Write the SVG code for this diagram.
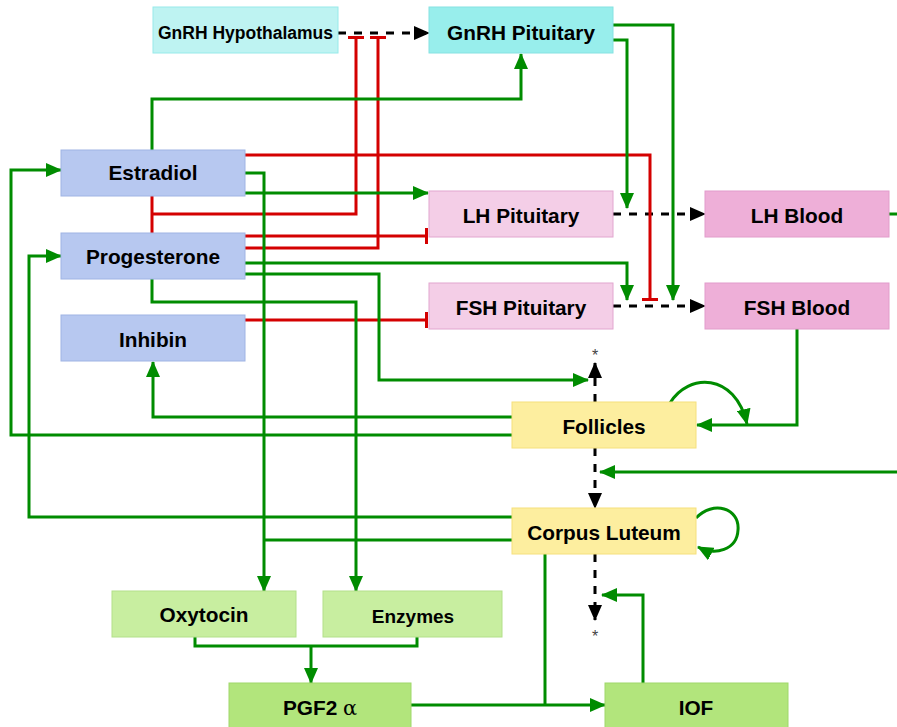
<svg xmlns="http://www.w3.org/2000/svg" width="897" height="727" viewBox="0 0 897 727">
<style>
.lbl{font-family:"Liberation Sans",Arial,sans-serif;font-weight:bold;font-size:20.8px;fill:#000;text-anchor:middle}
.g{fill:none;stroke:#008c00;stroke-width:3}
.r{fill:none;stroke:#d40000;stroke-width:3}
.d{fill:none;stroke:#000;stroke-width:3;stroke-dasharray:8 8}
.star{font-family:"Liberation Sans",Arial,sans-serif;font-size:16px;fill:#444;text-anchor:middle}
</style>
<defs>
<marker id="ga" markerWidth="16" markerHeight="14" refX="15" refY="7" orient="auto" markerUnits="userSpaceOnUse"><path d="M0,0 L16,7 L0,14 z" fill="#008c00"/></marker>
<marker id="ba" markerWidth="16" markerHeight="14" refX="15" refY="7" orient="auto" markerUnits="userSpaceOnUse"><path d="M0,0 L16,7 L0,14 z" fill="#000"/></marker>
<marker id="tee" markerWidth="4" markerHeight="16" refX="2" refY="8" orient="auto" markerUnits="userSpaceOnUse"><rect x="0" y="0" width="3" height="16" fill="#d40000"/></marker>
</defs>
<rect width="897" height="727" fill="#fff"/>
<g id="connectors">
<path class="d" d="M338,33 H429" marker-end="url(#ba)"/>
<path class="d" d="M613,214 H705" marker-end="url(#ba)"/>
<path class="d" d="M613,306 H705" marker-end="url(#ba)"/>
<path class="d" d="M595,402 V363" marker-end="url(#ba)"/>
<path class="d" d="M595,448 V508" marker-end="url(#ba)"/>
<path class="d" d="M595,554 V620" marker-end="url(#ba)"/>
<path class="r" d="M152,196 V233"/>
<path class="r" d="M152,214 H356 V37" marker-end="url(#tee)"/>
<path class="r" d="M245,248 H378 V37" marker-end="url(#tee)"/>
<path class="r" d="M245,155 H650 V300" marker-end="url(#tee)"/>
<path class="r" d="M245,236 H427" marker-end="url(#tee)"/>
<path class="r" d="M245,320 H427" marker-end="url(#tee)"/>
<path class="g" d="M152,150 V99 H521 V54" marker-end="url(#ga)"/>
<path class="g" d="M245,193 H428" marker-end="url(#ga)"/>
<path class="g" d="M245,173 H264 V591" marker-end="url(#ga)"/>
<path class="g" d="M613,40 H627 V208" marker-end="url(#ga)"/>
<path class="g" d="M613,25 H673 V300" marker-end="url(#ga)"/>
<path class="g" d="M245,263 H627 V300" marker-end="url(#ga)"/>
<path class="g" d="M245,274 H379 V380 H588" marker-end="url(#ga)"/>
<path class="g" d="M152,279 V302 H356 V591" marker-end="url(#ga)"/>
<path class="g" d="M512,417 H153 V362" marker-end="url(#ga)"/>
<path class="g" d="M512,435 H11 V170 H61" marker-end="url(#ga)"/>
<path class="g" d="M512,517 H29 V256 H61" marker-end="url(#ga)"/>
<path class="g" d="M512,540 H264"/>
<path class="g" d="M545,554 V705"/>
<path class="g" d="M411,705 H605" marker-end="url(#ga)"/>
<path class="g" d="M195,637 V646 H417 V637"/>
<path class="g" d="M311,646 V683" marker-end="url(#ga)"/>
<path class="g" d="M643,683 V595 H602" marker-end="url(#ga)"/>
<path class="g" d="M797,329 V425 H697" marker-end="url(#ga)"/>
<path class="g" d="M670,403 C688,373 735,372 747,424" marker-end="url(#ga)"/>
<path class="g" d="M696,518 C713,500 740,508 738,530 C737,550 715,556 698,547" marker-end="url(#ga)"/>
<path class="g" d="M889,214 H897"/>
<path class="g" d="M897,472 H600" marker-end="url(#ga)"/>
</g>
<text class="star" x="595" y="361">*</text>
<text class="star" x="595" y="642">*</text>
<g id="gnrh-hypothalamus"><rect x="153" y="7" width="185" height="46" fill="#bef3f2" stroke="#97eaea"/><text class="lbl" x="245.5" y="39" style="font-size:17.5px">GnRH Hypothalamus</text></g>
<g id="gnrh-pituitary"><rect x="429" y="7" width="184" height="46" fill="#98eeec" stroke="#86e2e2"/><text class="lbl" x="521" y="40">GnRH Pituitary</text></g>
<g id="estradiol"><rect x="61" y="150" width="184" height="46" fill="#b7c8f0" stroke="#9fb4e4"/><text class="lbl" x="153" y="180">Estradiol</text></g>
<g id="progesterone"><rect x="61" y="233" width="184" height="46" fill="#b7c8f0" stroke="#9fb4e4"/><text class="lbl" x="153" y="264">Progesterone</text></g>
<g id="inhibin"><rect x="61" y="315" width="184" height="46" fill="#b7c8f0" stroke="#9fb4e4"/><text class="lbl" x="153" y="347">Inhibin</text></g>
<g id="lh-pituitary"><rect x="429" y="191" width="184" height="46" fill="#f4cee7" stroke="#e2a6cf"/><text class="lbl" x="521" y="223">LH Pituitary</text></g>
<g id="fsh-pituitary"><rect x="429" y="283" width="184" height="46" fill="#f4cee7" stroke="#e2a6cf"/><text class="lbl" x="521" y="315">FSH Pituitary</text></g>
<g id="lh-blood"><rect x="705" y="191" width="184" height="46" fill="#eeafd8" stroke="#e29ccb"/><text class="lbl" x="797" y="223">LH Blood</text></g>
<g id="fsh-blood"><rect x="705" y="283" width="184" height="46" fill="#eeafd8" stroke="#e29ccb"/><text class="lbl" x="797" y="315">FSH Blood</text></g>
<g id="follicles"><rect x="512" y="402" width="184" height="46" fill="#fdee9f" stroke="#f5e07c"/><text class="lbl" x="604" y="434">Follicles</text></g>
<g id="corpus-luteum"><rect x="512" y="508" width="184" height="46" fill="#fdee9f" stroke="#f5e07c"/><text class="lbl" x="604" y="540">Corpus Luteum</text></g>
<g id="oxytocin"><rect x="112" y="591" width="184" height="46" fill="#c8eea0" stroke="#b3e08a"/><text class="lbl" x="204" y="622">Oxytocin</text></g>
<g id="enzymes"><rect x="323" y="591" width="179" height="46" fill="#c8eea0" stroke="#b3e08a"/><text class="lbl" x="413" y="623" style="font-size:19px">Enzymes</text></g>
<g id="pgf2a"><rect x="229" y="683" width="182" height="48" fill="#b2e57c" stroke="#9fd86a"/><text class="lbl" x="320" y="715">PGF2 <tspan style="font-weight:normal;font-family:'DejaVu Serif','Liberation Serif',serif">α</tspan></text></g>
<g id="iof"><rect x="605" y="683" width="183" height="48" fill="#b2e57c" stroke="#9fd86a"/><text class="lbl" x="696" y="715">IOF</text></g>
</svg>
